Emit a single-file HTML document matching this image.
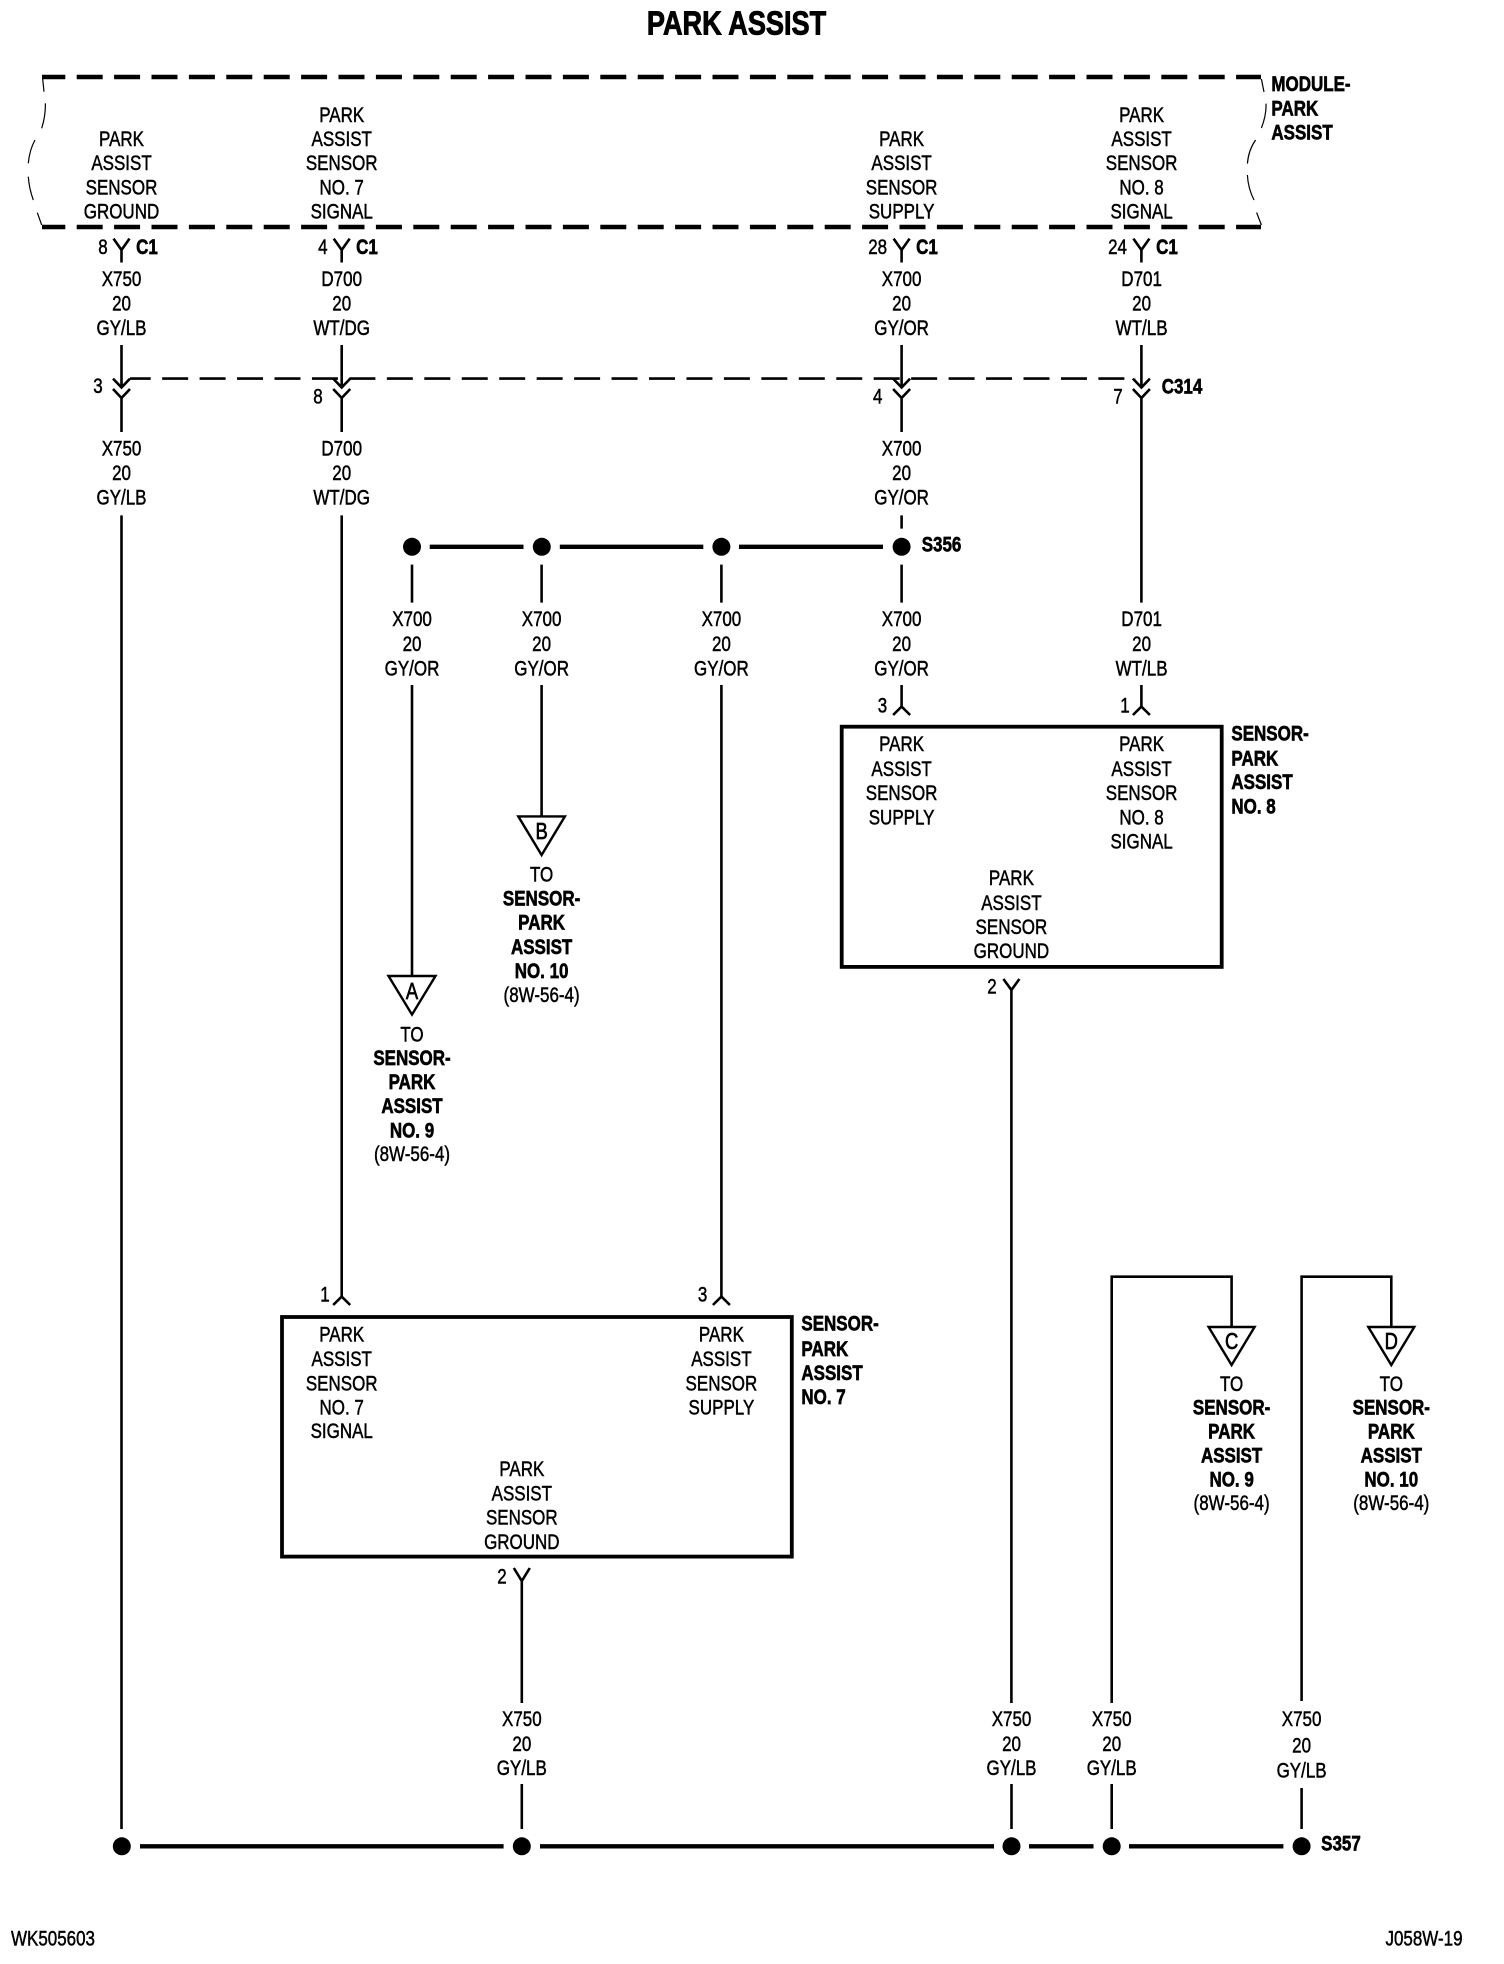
<!DOCTYPE html>
<html>
<head>
<meta charset="utf-8">
<style>
html,body{margin:0;padding:0;background:#fff}
svg{display:block}
text{font-family:"Liberation Sans",Arial,sans-serif;font-size:21.5px;fill:#000;text-anchor:middle;transform-box:fill-box;transform-origin:center;transform:translateY(-1px) scaleX(.79);stroke:#000;stroke-width:.5}
.b{font-weight:bold;stroke-width:.65}
.l{text-anchor:start;transform-origin:left center}
.k{font-size:23px;transform:translateY(1px) scaleX(.8);stroke-width:.7}
.w{fill:none;stroke:#000;stroke-width:2.6}
.h{fill:none;stroke:#000;stroke-width:4.4}
.t{fill:none;stroke:#000;stroke-width:1.2}
.box{fill:none;stroke:#000;stroke-width:3.8}
.tri{fill:#fff;stroke:#000;stroke-width:2.4;stroke-linejoin:miter}
</style>
</head>
<body>
<svg width="1504" height="1964" viewBox="0 0 1504 1964" xmlns="http://www.w3.org/2000/svg">
<rect width="1504" height="1964" fill="#fff"/>

<text class="b" x="736.5" y="35" style="font-size:33.3px;transform:translateY(-.5px) scaleX(.815);stroke-width:.9">PARK ASSIST</text>

<!-- module boundary -->
<path class="h" d="M42 77H1261M42 227H1261" stroke-dasharray="26 11.4" stroke-dashoffset="2.7"/>
<path class="t" d="M42.7 79L44 91.7M45.3 103.3Q45.8 115 41.7 128.3M35 140Q29.5 150 28.3 163.3M28.3 176.7Q29 188 33.3 200M37.3 212.7L41.7 225"/>
<path class="t" d="M1261.4 79L1264 92M1266 103.6Q1266.5 115 1261.4 128M1255.6 140Q1248.5 150 1247.4 163.6M1247.4 175Q1248 188 1254 200M1256.6 212.5L1261.4 225"/>

<text class="b l" x="1271.4" y="92">MODULE-</text>
<text class="b l" x="1271.4" y="116.5">PARK</text>
<text class="b l" x="1271.4" y="140.5">ASSIST</text>

<!-- module pin labels -->
<text x="121.5" y="147">PARK</text><text x="121.5" y="171.2">ASSIST</text><text x="121.5" y="195.4">SENSOR</text><text x="121.5" y="219.6">GROUND</text>
<text x="341.7" y="122.8">PARK</text><text x="341.7" y="147">ASSIST</text><text x="341.7" y="171.2">SENSOR</text><text x="341.7" y="195.4">NO. 7</text><text x="341.7" y="219.6">SIGNAL</text>
<text x="901.6" y="147">PARK</text><text x="901.6" y="171.2">ASSIST</text><text x="901.6" y="195.4">SENSOR</text><text x="901.6" y="219.6">SUPPLY</text>
<text x="1141.6" y="122.8">PARK</text><text x="1141.6" y="147">ASSIST</text><text x="1141.6" y="171.2">SENSOR</text><text x="1141.6" y="195.4">NO. 8</text><text x="1141.6" y="219.6">SIGNAL</text>

<!-- C1 connectors -->
<path class="w" d="M113.5 238.6L121.5 250L129.5 238.6M121.5 250V262.5"/>
<path class="w" d="M333.7 238.6L341.7 250L349.7 238.6M341.7 250V262.5"/>
<path class="w" d="M893.6 238.6L901.6 250L909.6 238.6M901.6 250V262.5"/>
<path class="w" d="M1133.4 238.6L1141.4 250L1149.4 238.6M1141.4 250V262.5"/>
<text x="103" y="255">8</text><text class="b" x="147" y="255">C1</text>
<text x="322.8" y="255">4</text><text class="b" x="367" y="255">C1</text>
<text x="877.7" y="255">28</text><text class="b" x="927" y="255">C1</text>
<text x="1117.5" y="255">24</text><text class="b" x="1167" y="255">C1</text>

<!-- upper wire labels -->
<text x="121.5" y="287">X750</text><text x="121.5" y="311.5">20</text><text x="121.5" y="336">GY/LB</text>
<text x="341.7" y="287">D700</text><text x="341.7" y="311.5">20</text><text x="341.7" y="336">WT/DG</text>
<text x="901.6" y="287">X700</text><text x="901.6" y="311.5">20</text><text x="901.6" y="336">GY/OR</text>
<text x="1141.6" y="287">D701</text><text x="1141.6" y="311.5">20</text><text x="1141.6" y="336">WT/LB</text>

<!-- C314 -->
<path class="w" d="M130 378.6H1136" stroke-dasharray="26 11.45" stroke-dashoffset="5.3"/>
<path class="w" d="M121.5 345V387M113 378.6L121.5 387.5L130 378.6M113 389L121.5 398L130 389M121.5 398V432"/>
<path class="w" d="M341.7 345V387M333.2 378.6L341.7 387.5L350.2 378.6M333.2 389L341.7 398L350.2 389M341.7 398V432"/>
<path class="w" d="M901.6 345V387M893.1 378.6L901.6 387.5L910.1 378.6M893.1 389L901.6 398L910.1 389M901.6 398V432"/>
<path class="w" d="M1141.4 345V387M1132.9 378.6L1141.4 387.5L1149.9 378.6M1132.9 389L1141.4 398L1149.9 389M1141.4 398V602.6"/>
<text x="98" y="394">3</text><text x="318" y="404.6">8</text><text x="877.7" y="404.6">4</text><text x="1118" y="404.6">7</text>
<text class="b" x="1182" y="394.6">C314</text>

<text x="121.5" y="456.4">X750</text><text x="121.5" y="481">20</text><text x="121.5" y="505.4">GY/LB</text>
<text x="341.7" y="456.4">D700</text><text x="341.7" y="481">20</text><text x="341.7" y="505.4">WT/DG</text>
<text x="901.6" y="456.4">X700</text><text x="901.6" y="481">20</text><text x="901.6" y="505.4">GY/OR</text>

<path class="w" d="M121.5 515.4V1829M341.7 515.4V1297M901.6 515.4V528.6"/>

<!-- S356 -->
<path class="h" d="M429.7 546.8H523.5M559.8 546.8H703.3M739 546.8H883"/>
<circle cx="412" cy="546.8" r="9"/><circle cx="541.8" cy="546.8" r="9"/><circle cx="721.4" cy="546.8" r="9"/><circle cx="901.6" cy="546.8" r="9"/>
<text class="b" x="941.5" y="552.5">S356</text>
<path class="w" d="M412 564.6V602.6M541.6 564.6V602.6M721.4 564.6V602.6M901.6 564.6V602.6"/>

<text x="412" y="627">X700</text><text x="412" y="652">20</text><text x="412" y="676.5">GY/OR</text>
<text x="541.6" y="627">X700</text><text x="541.6" y="652">20</text><text x="541.6" y="676.5">GY/OR</text>
<text x="721.4" y="627">X700</text><text x="721.4" y="652">20</text><text x="721.4" y="676.5">GY/OR</text>
<text x="901.6" y="627">X700</text><text x="901.6" y="652">20</text><text x="901.6" y="676.5">GY/OR</text>
<text x="1141.6" y="627">D701</text><text x="1141.6" y="652">20</text><text x="1141.6" y="676.5">WT/LB</text>

<path class="w" d="M412 685V976M541.6 685V816.4M721.4 685V1297M901.6 685V706.6M1141.4 685V706.6"/>

<!-- off-page A -->
<polygon class="tri" points="388.5,976 435.5,976 412,1014.6"/>
<text class="k" x="412" y="998">A</text>
<text x="412" y="1042.3">TO</text><text class="b" x="412" y="1066">SENSOR-</text><text class="b" x="412" y="1090">PARK</text><text class="b" x="412" y="1114">ASSIST</text><text class="b" x="412" y="1138.4">NO. 9</text><text x="412" y="1162">(8W-56-4)</text>

<!-- off-page B -->
<polygon class="tri" points="518.3,816.4 564.9,816.4 541.6,855"/>
<text class="k" x="541.6" y="838">B</text>
<text x="541.6" y="882.5">TO</text><text class="b" x="541.6" y="906.6">SENSOR-</text><text class="b" x="541.6" y="930.7">PARK</text><text class="b" x="541.6" y="954.8">ASSIST</text><text class="b" x="541.6" y="979">NO. 10</text><text x="541.6" y="1003">(8W-56-4)</text>

<!-- sensor 8 -->
<path class="w" d="M893.1 715L901.6 706.6L910.1 715M1132.9 715L1141.4 706.6L1149.9 715"/>
<text x="882.5" y="713.3">3</text><text x="1125" y="713.3">1</text>
<rect class="box" x="841.7" y="726.7" width="380" height="240.2"/>
<text x="901.6" y="752">PARK</text><text x="901.6" y="777">ASSIST</text><text x="901.6" y="801">SENSOR</text><text x="901.6" y="825.4">SUPPLY</text>
<text x="1141.6" y="752">PARK</text><text x="1141.6" y="777">ASSIST</text><text x="1141.6" y="801">SENSOR</text><text x="1141.6" y="825.4">NO. 8</text><text x="1141.6" y="849.5">SIGNAL</text>
<text x="1011.4" y="886">PARK</text><text x="1011.4" y="911">ASSIST</text><text x="1011.4" y="935">SENSOR</text><text x="1011.4" y="959">GROUND</text>
<text class="b l" x="1231.4" y="741.4">SENSOR-</text><text class="b l" x="1231.4" y="766.4">PARK</text><text class="b l" x="1231.4" y="790">ASSIST</text><text class="b l" x="1231.4" y="814.6">NO. 8</text>
<text x="992" y="994.5">2</text>
<path class="w" d="M1003.4 979L1011.4 990L1019.4 979M1011.4 990V1703"/>

<!-- sensor 7 -->
<path class="w" d="M333.2 1305L341.7 1296.6L350.2 1305M712.9 1305L721.4 1296.6L729.9 1305"/>
<text x="325" y="1302.7">1</text><text x="702.6" y="1302.7">3</text>
<rect class="box" x="282" y="1317" width="509.8" height="239.6"/>
<text x="341.7" y="1342.4">PARK</text><text x="341.7" y="1366.8">ASSIST</text><text x="341.7" y="1391.3">SENSOR</text><text x="341.7" y="1415.7">NO. 7</text><text x="341.7" y="1439">SIGNAL</text>
<text x="721.4" y="1342.4">PARK</text><text x="721.4" y="1366.8">ASSIST</text><text x="721.4" y="1391.3">SENSOR</text><text x="721.4" y="1415.7">SUPPLY</text>
<text x="521.8" y="1477">PARK</text><text x="521.8" y="1501.4">ASSIST</text><text x="521.8" y="1525.6">SENSOR</text><text x="521.8" y="1550">GROUND</text>
<text class="b l" x="801.4" y="1331.5">SENSOR-</text><text class="b l" x="801.4" y="1356.8">PARK</text><text class="b l" x="801.4" y="1381">ASSIST</text><text class="b l" x="801.4" y="1404.8">NO. 7</text>
<text x="502" y="1584.5">2</text>
<path class="w" d="M513.8 1568L521.8 1581L529.8 1568M521.8 1581V1703"/>

<!-- right branches -->
<path class="w" d="M1111.7 1703V1276.7H1231.6V1327"/>
<path class="w" d="M1301.6 1701V1276.7H1391.3V1327"/>
<polygon class="tri" points="1208.6,1327 1254.6,1327 1231.6,1365"/>
<polygon class="tri" points="1368.3,1327 1414.3,1327 1391.3,1365"/>
<text class="k" x="1231.6" y="1348">C</text><text class="k" x="1391.3" y="1348">D</text>
<text x="1231.6" y="1392">TO</text><text class="b" x="1231.6" y="1415.5">SENSOR-</text><text class="b" x="1231.6" y="1439.5">PARK</text><text class="b" x="1231.6" y="1463.7">ASSIST</text><text class="b" x="1231.6" y="1487.7">NO. 9</text><text x="1231.6" y="1511">(8W-56-4)</text>
<text x="1391.3" y="1392">TO</text><text class="b" x="1391.3" y="1415.5">SENSOR-</text><text class="b" x="1391.3" y="1439.5">PARK</text><text class="b" x="1391.3" y="1463.7">ASSIST</text><text class="b" x="1391.3" y="1487.7">NO. 10</text><text x="1391.3" y="1511">(8W-56-4)</text>

<!-- lower wire labels -->
<text x="521.8" y="1727">X750</text><text x="521.8" y="1752">20</text><text x="521.8" y="1776">GY/LB</text>
<text x="1011.5" y="1727">X750</text><text x="1011.5" y="1752">20</text><text x="1011.5" y="1776">GY/LB</text>
<text x="1111.7" y="1727">X750</text><text x="1111.7" y="1752">20</text><text x="1111.7" y="1776">GY/LB</text>
<text x="1301.6" y="1727">X750</text><text x="1301.6" y="1753.4">20</text><text x="1301.6" y="1778.5">GY/LB</text>
<path class="w" d="M521.8 1784V1829M1011.5 1784V1829M1111.7 1784V1829M1301.6 1788V1829"/>

<!-- S357 -->
<path class="h" d="M140 1846.3H503.6M540 1846.3H994M1029 1846.3H1093.5M1129 1846.3H1283.4"/>
<circle cx="121.8" cy="1846.3" r="9"/><circle cx="521.8" cy="1846.3" r="9"/><circle cx="1011.5" cy="1846.3" r="9"/><circle cx="1111.7" cy="1846.3" r="9"/><circle cx="1301.6" cy="1846.3" r="9"/>
<text class="b" x="1341" y="1851.6">S357</text>

<text x="53" y="1946.7">WK505603</text>
<text x="1424" y="1946.7">J058W-19</text>
</svg>
</body>
</html>
